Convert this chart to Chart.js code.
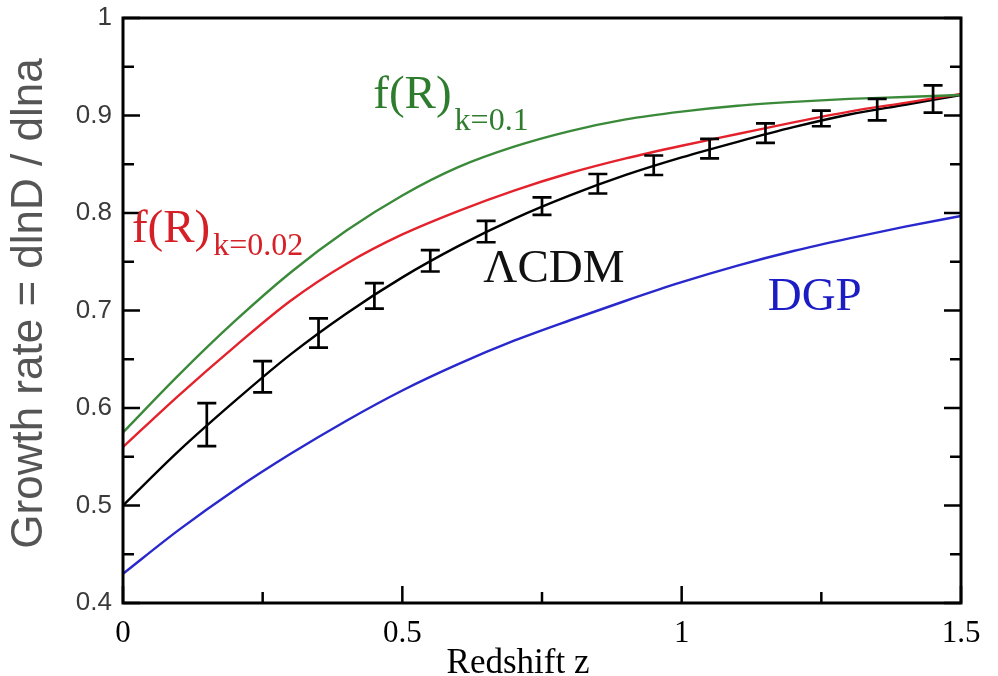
<!DOCTYPE html>
<html><head><meta charset="utf-8">
<script src="https://cdn.jsdelivr.net/npm/chart.js@4.4.1/dist/chart.umd.min.js"></script>
<style>html,body{margin:0;padding:0;background:#fff;overflow:hidden}canvas{display:block}</style>
</head><body>
<canvas id="c" width="998" height="676"></canvas>
<script>
// ---- data ----
const redshift = [0,0.1,0.2,0.3,0.4,0.5,0.6,0.7,0.8,0.9,1.0,1.1,1.2,1.3,1.4,1.5];
const fR_k01  = [0.575,0.634,0.689,0.739,0.782,0.818,0.847,0.868,0.884,0.896,0.904,0.910,0.914,0.917,0.919,0.921];
const fR_k002 = [0.560,0.613,0.663,0.710,0.748,0.778,0.802,0.823,0.841,0.856,0.869,0.881,0.893,0.904,0.913,0.922];
const lcdm    = [0.500,0.556,0.607,0.655,0.697,0.734,0.766,0.794,0.818,0.839,0.857,0.873,0.888,0.901,0.911,0.921];
const dgp     = [0.430,0.475,0.516,0.553,0.587,0.618,0.645,0.669,0.690,0.710,0.729,0.746,0.761,0.774,0.786,0.797];

const errZ   = [0.15,0.25,0.35,0.45,0.55,0.65,0.75,0.85,0.95,1.05,1.15,1.25,1.35,1.45];
const errMid = [0.583,0.632,0.677,0.715,0.751,0.781,0.807,0.830,0.849,0.866,0.882,0.897,0.906,0.917];
const errSig = [0.022,0.016,0.015,0.013,0.011,0.011,0.009,0.010,0.010,0.010,0.010,0.008,0.011,0.014];

const xTickValues = [0,0.5,1,1.5];
const xTickLabels = ['0','0.5','1','1.5'];
const xMinorTicks = [0.25,0.75,1.25];
const yTickValues = [0.4,0.5,0.6,0.7,0.8,0.9,1];
const yTickLabels = ['0.4','0.5','0.6','0.7','0.8','0.9','1'];
const yMinorTicks = [0.45,0.55,0.65,0.75,0.85,0.95];

const xTitle = 'Redshift z';
const yTitle = 'Growth rate = dlnD / dlna';

// ---- styling / layout ----
const GREEN = '#3a8a3a', RED = '#e3222c', BLUE = '#2828cc', BLACK = '#000000';
const pts = arr => redshift.map((z,i)=>({x:z,y:arr[i]}));

const labels = [
  {z:0.448, y:0.908, main:'f(R)', sub:'k=0.1',  color:'#2e7d2e', subDy:22},
  {z:0.016, y:0.770, main:'f(R)', sub:'k=0.02', color:'#d42026', subDy:13},
  {z:0.645, y:0.729, main:'\u039BCDM', sub:'', color:'#111111', subDy:0},
  {z:1.154, y:0.7005, main:'DGP', sub:'', color:'#1c1cc4', subDy:0}
];

const framePlugin = {
  id:'framePlugin',
  afterDatasetsDraw(chart){
    const ctx = chart.ctx, a = chart.chartArea;
    const xs = chart.scales.x, ys = chart.scales.y;
    ctx.save();
    // error bars
    ctx.strokeStyle = '#000'; ctx.lineWidth = 2.7;
    errZ.forEach((z,i)=>{
      const px = xs.getPixelForValue(z);
      const t = ys.getPixelForValue(errMid[i]+errSig[i]);
      const b = ys.getPixelForValue(errMid[i]-errSig[i]);
      ctx.beginPath();
      ctx.moveTo(px,t); ctx.lineTo(px,b);
      ctx.moveTo(px-9.5,t); ctx.lineTo(px+9.5,t);
      ctx.moveTo(px-9.5,b); ctx.lineTo(px+9.5,b);
      ctx.stroke();
    });
    // frame
    ctx.lineWidth = 3; ctx.strokeStyle = '#000';
    ctx.strokeRect(a.left, a.top, a.right-a.left, a.bottom-a.top);
    // ticks (inward)
    ctx.lineWidth = 2.5;
    ctx.beginPath();
    const yT = (v,len)=>{const p=ys.getPixelForValue(v);
      ctx.moveTo(a.left,p); ctx.lineTo(a.left+len,p);
      ctx.moveTo(a.right,p); ctx.lineTo(a.right-len,p);};
    yTickValues.forEach(v=>yT(v,17)); yMinorTicks.forEach(v=>yT(v,11));
    const xT = (v,len)=>{const p=xs.getPixelForValue(v);
      ctx.moveTo(p,a.bottom); ctx.lineTo(p,a.bottom-len);};
    xTickValues.forEach(v=>xT(v,17)); xMinorTicks.forEach(v=>xT(v,11));
    ctx.stroke();
    // annotations
    ctx.textBaseline = 'alphabetic'; ctx.textAlign = 'left';
    labels.forEach(l=>{
      const px = xs.getPixelForValue(l.z), py = ys.getPixelForValue(l.y);
      ctx.fillStyle = l.color;
      ctx.font = '47px "Liberation Serif", serif';
      ctx.fillText(l.main, px, py);
      const w = ctx.measureText(l.main).width;
      if (l.sub){
        ctx.font = '32px "Liberation Serif", serif';
        ctx.fillText(l.sub, px + w + 3, py + l.subDy);
      }
    });
    // axis titles
    ctx.fillStyle = '#000';
    ctx.font = '35px "Liberation Serif", serif';
    ctx.textAlign = 'center';
    ctx.fillText(xTitle, (a.left+a.right)/2 - 24, 673);
    ctx.save();
    ctx.translate(30, (a.top+a.bottom)/2 - 7);
    ctx.rotate(-Math.PI/2);
    ctx.fillStyle = '#555';
    ctx.font = '44px "Liberation Sans", sans-serif';
    ctx.textBaseline = 'middle';
    ctx.fillText(yTitle, 0, 0);
    ctx.restore();
    ctx.restore();
  }
};

const common = {fill:false, pointRadius:0, borderWidth:2.4, cubicInterpolationMode:'monotone'};

new Chart(document.getElementById('c'), {
  type:'line',
  data:{datasets:[
    Object.assign({label:'f(R) k=0.1', data:pts(fR_k01), borderColor:GREEN}, common),
    Object.assign({label:'f(R) k=0.02', data:pts(fR_k002), borderColor:RED}, common),
    Object.assign({label:'\u039BCDM', data:pts(lcdm), borderColor:BLACK}, common),
    Object.assign({label:'DGP', data:pts(dgp), borderColor:BLUE}, common)
  ]},
  options:{
    responsive:false, animation:false, devicePixelRatio:1,
    layout:{padding:{top:18,right:37,left:0,bottom:0}},
    plugins:{legend:{display:false}, tooltip:{enabled:false}},
    scales:{
      x:{type:'linear', min:0, max:1.5,
         afterBuildTicks:s=>{s.ticks = xTickValues.map(v=>({value:v}));},
         afterFit:s=>{s.height = 73; s.paddingLeft = 0; s.paddingRight = 0;},
         grid:{display:false, drawTicks:false}, border:{display:false},
         ticks:{padding:12, color:'#000', font:{family:'"Liberation Serif", serif', size:31},
                callback:(v,i)=>xTickLabels[i]}},
      y:{type:'linear', min:0.4, max:1,
         afterBuildTicks:s=>{s.ticks = yTickValues.map(v=>({value:v}));},
         afterFit:s=>{s.width = 123; s.paddingTop = 0; s.paddingBottom = 0;},
         grid:{display:false, drawTicks:false}, border:{display:false},
         ticks:{padding:11, color:'#3a3a3a', font:{family:'"Liberation Sans", sans-serif', size:26},
                callback:(v,i)=>yTickLabels[i]}}
    }
  },
  plugins:[framePlugin]
});
</script>
</body></html>
